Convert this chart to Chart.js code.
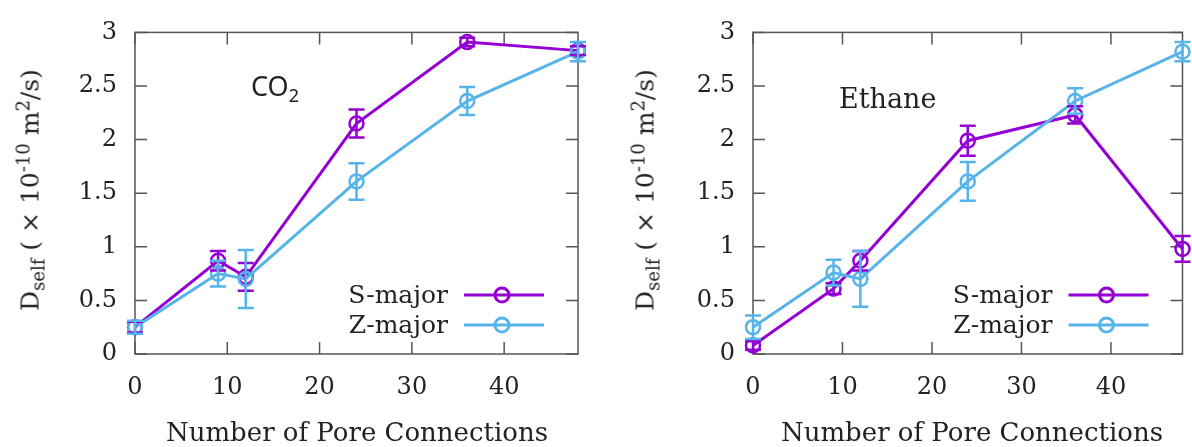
<!DOCTYPE html>
<html>
<head>
<meta charset="utf-8">
<script src="https://cdn.jsdelivr.net/npm/chart.js@4/dist/chart.umd.min.js"></script>
<style>
  body { margin: 0; background: #fff; width: 1192px; height: 447px; overflow: hidden; position: relative;
         font-family: "DejaVu Serif", serif; color: #222; }
  .panel { position: absolute; top: 0; height: 447px; overflow: hidden; }
  .ytitle { position: absolute; top: 190px; white-space: nowrap; font-size: 25px; line-height: 1;
            transform: translate(-50%, -50%) rotate(-90deg); }
  .ytitle sub, .ytitle sup { font-size: 18px; line-height: 0; }
  .xtitle { position: absolute; top: 419px; width: 440px; text-align: center; font-size: 26px; line-height: 1; white-space: nowrap; }
  .label { position: absolute; line-height: 1; white-space: nowrap; }
</style>
</head>
<body>
<div class="panel" style="left:0;width:600px"><canvas id="co2Chart" width="600" height="447"></canvas></div>
<div class="panel" style="left:600px;width:592px"><canvas id="ethaneChart" width="592" height="447"></canvas></div>

<div class="ytitle" style="left:30px">D<sub>self</sub> ( × 10<sup>-10</sup> m<sup>2</sup>/s)</div>
<div class="ytitle" style="left:645px">D<sub>self</sub> ( × 10<sup>-10</sup> m<sup>2</sup>/s)</div>
<div class="xtitle" style="left:137px">Number of Pore Connections</div>
<div class="xtitle" style="left:752px">Number of Pore Connections</div>
<div class="label" style="left:251px;top:72px;font-family:'Noto Sans',sans-serif;font-size:27px">CO<sub style="font-size:18px">2</sub></div>
<div class="label" style="left:839px;top:85px;font-size:27px">Ethane</div>

<script>
// Datos
const poreConnections = [0, 9, 12, 24, 36, 48];
const seriesNames = ['S-major', 'Z-major'];
const seriesColors = ['#9400D3', '#56B4E9'];

const co2SMajor = [0.25, 0.87, 0.72, 2.15, 2.91, 2.83];
const co2SMajorErr = [0.05, 0.09, 0.13, 0.13, 0.04, 0.04];
const co2ZMajor = [0.25, 0.75, 0.70, 1.61, 2.36, 2.82];
const co2ZMajorErr = [0.06, 0.12, 0.27, 0.17, 0.13, 0.09];

const ethaneSMajor = [0.08, 0.61, 0.87, 1.99, 2.23, 0.98];
const ethaneSMajorErr = [0.04, 0.05, 0.09, 0.14, 0.08, 0.12];
const ethaneZMajor = [0.25, 0.76, 0.70, 1.61, 2.36, 2.82];
const ethaneZMajorErr = [0.11, 0.12, 0.26, 0.18, 0.12, 0.09];

const xTicks = [0, 10, 20, 30, 40];
const yTicks = [0, 0.5, 1, 1.5, 2, 2.5, 3];

Chart.defaults.font.family = 'DejaVu Serif';
Chart.defaults.color = '#222';

// Marco con marcas hacia dentro en los cuatro lados
const frameTicks = {
    id: 'frameTicks',
    beforeDatasetsDraw(chart) {
        const { ctx, chartArea: a, scales: { x, y } } = chart;
        ctx.save();
        ctx.strokeStyle = '#555';
        ctx.lineWidth = 1.5;
        ctx.strokeRect(a.left, a.top, a.right - a.left, a.bottom - a.top);
        ctx.beginPath();
        xTicks.forEach(v => {
            const px = x.getPixelForValue(v);
            ctx.moveTo(px, a.bottom); ctx.lineTo(px, a.bottom - 12);
            ctx.moveTo(px, a.top); ctx.lineTo(px, a.top + 12);
        });
        yTicks.forEach(v => {
            const py = y.getPixelForValue(v);
            ctx.moveTo(a.left, py); ctx.lineTo(a.left + 12, py);
            ctx.moveTo(a.right, py); ctx.lineTo(a.right - 12, py);
        });
        ctx.stroke();
        ctx.restore();
    }
};

// Barras de error
const errorBars = {
    id: 'errorBars',
    afterDatasetsDraw(chart) {
        const { ctx, scales: { x, y } } = chart;
        ctx.save();
        ctx.lineWidth = 2.5;
        chart.data.datasets.forEach(ds => {
            ctx.strokeStyle = ds.borderColor;
            ctx.beginPath();
            ds.data.forEach((p, i) => {
                const px = x.getPixelForValue(p.x);
                const top = y.getPixelForValue(p.y + ds.errors[i]);
                const bot = y.getPixelForValue(p.y - ds.errors[i]);
                ctx.moveTo(px, top); ctx.lineTo(px, bot);
                ctx.moveTo(px - 8, top); ctx.lineTo(px + 8, top);
                ctx.moveTo(px - 8, bot); ctx.lineTo(px + 8, bot);
            });
            ctx.stroke();
        });
        ctx.restore();
    }
};

// Leyenda dentro del area del grafico
const insideLegend = {
    id: 'insideLegend',
    afterDraw(chart) {
        const { ctx, chartArea: a } = chart;
        ctx.save();
        ctx.font = '25px "DejaVu Serif"';
        ctx.textAlign = 'right';
        ctx.textBaseline = 'middle';
        seriesNames.forEach((name, i) => {
            const yy = a.bottom - 59 + i * 30;
            ctx.fillStyle = '#222';
            ctx.fillText(name, a.right - 130, yy + 1);
            ctx.strokeStyle = seriesColors[i];
            ctx.lineWidth = 3;
            ctx.beginPath();
            ctx.moveTo(a.right - 114, yy); ctx.lineTo(a.right - 34, yy);
            ctx.stroke();
            ctx.beginPath();
            ctx.arc(a.right - 76, yy, 7, 0, Math.PI * 2);
            ctx.stroke();
        });
        ctx.restore();
    }
};

function makeDataset(idx, values, errors) {
    return {
        label: seriesNames[idx],
        data: poreConnections.map((c, i) => ({ x: c, y: values[i] })),
        errors: errors,
        borderColor: seriesColors[idx],
        backgroundColor: seriesColors[idx],
        borderWidth: 3,
        showLine: true,
        pointRadius: 7,
        pointBorderWidth: 2.5,
        pointBackgroundColor: 'rgba(0,0,0,0)',
        pointBorderColor: seriesColors[idx],
        clip: false,
        order: idx === 0 ? 1 : 0
    };
}

function makeChart(canvasId, sValues, sErr, zValues, zErr, yWidth, padRight) {
    return new Chart(document.getElementById(canvasId), {
        type: 'scatter',
        data: {
            datasets: [makeDataset(0, sValues, sErr), makeDataset(1, zValues, zErr)]
        },
        options: {
            responsive: false,
            animation: false,
            layout: { padding: { left: 0, right: padRight, top: 23, bottom: 0 } },
            plugins: { legend: { display: false }, tooltip: { enabled: false } },
            scales: {
                x: {
                    type: 'linear', min: 0, max: 48,
                    grid: { display: false, drawTicks: false },
                    border: { display: false },
                    afterBuildTicks: s => { s.ticks = xTicks.map(v => ({ value: v })); },
                    afterFit: s => { s.height = 93; },
                    ticks: { padding: 19, font: { size: 24 }, color: '#222', maxRotation: 0,
                             callback: v => String(v) }
                },
                y: {
                    type: 'linear', min: 0, max: 3,
                    grid: { display: false, drawTicks: false },
                    border: { display: false },
                    afterBuildTicks: s => { s.ticks = yTicks.map(v => ({ value: v })); },
                    afterFit: s => { s.width = yWidth; },
                    ticks: { padding: 18, font: { size: 24 }, color: '#222',
                             callback: v => String(v) }
                }
            }
        },
        plugins: [frameTicks, errorBars, insideLegend]
    });
}

makeChart('co2Chart', co2SMajor, co2SMajorErr, co2ZMajor, co2ZMajorErr, 135, 22);
makeChart('ethaneChart', ethaneSMajor, ethaneSMajorErr, ethaneZMajor, ethaneZMajorErr, 153, 1);
</script>
</body>
</html>
